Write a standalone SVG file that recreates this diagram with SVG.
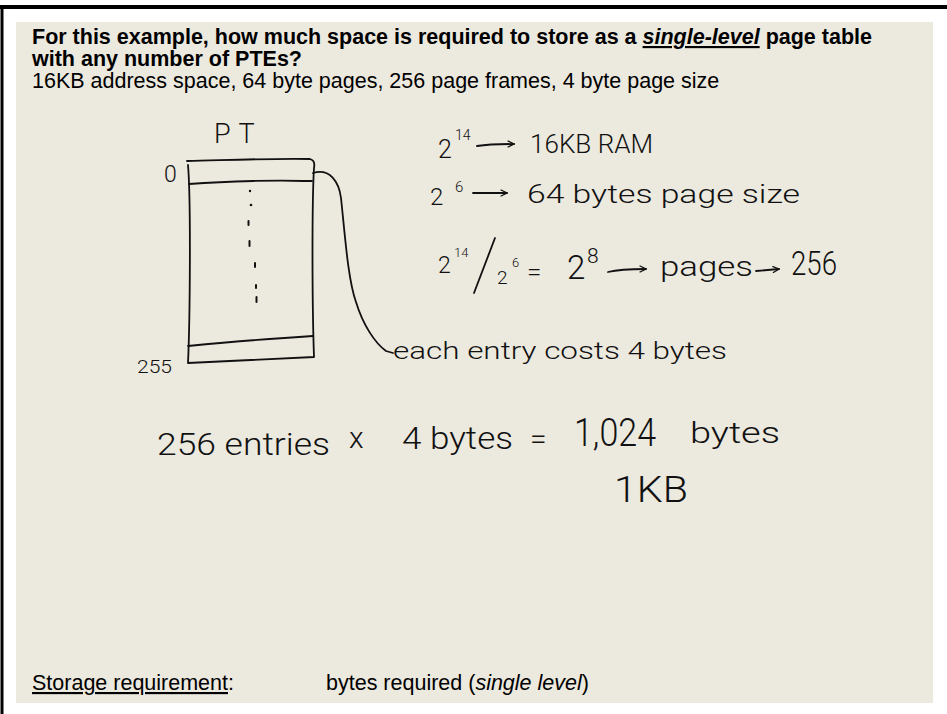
<svg xmlns="http://www.w3.org/2000/svg" width="947" height="714" viewBox="0 0 947 714">
<style>
.t{font-family:"Liberation Sans",Arial,sans-serif;font-size:21.5px;fill:#000}
.b{font-weight:bold}
.i{font-style:italic}
.h{font-family:Roboto,"Liberation Sans",sans-serif;fill:#111;font-weight:300}
.ink{fill:none;stroke:#111;stroke-width:1.8;stroke-linecap:round;stroke-linejoin:round}
</style>
<defs>
<marker id="ah" viewBox="0 0 10 10" refX="9" refY="5" markerWidth="8" markerHeight="8" markerUnits="userSpaceOnUse" orient="auto">
<path d="M1,1 L9,5 L1,9" fill="none" stroke="#111" stroke-width="1.6"/>
</marker>
</defs>
<rect x="0" y="0" width="947" height="714" fill="#fff"/>
<rect x="16" y="22" width="917" height="681" fill="#ECE9DF"/>
<line x1="0" y1="7" x2="947" y2="7" stroke="#000" stroke-width="4"/>
<line x1="2" y1="5" x2="2" y2="714" stroke="#000" stroke-width="3"/>

<g id="header">
<text class="t b" x="32" y="44">For this example, how much space is required to store as a <tspan class="i" text-decoration="underline">single-level</tspan> page table</text>
<text class="t b" x="32" y="66">with any number of PTEs?</text>
<text class="t" x="32" y="88">16KB address space, 64 byte pages, 256 page frames, 4 byte page size</text>
</g>

<g id="footer">
<text class="t" x="32" y="690"><tspan text-decoration="underline">Storage requirement</tspan>:</text>
<text class="t" x="326" y="690">bytes required (<tspan class="i">single level</tspan>)</text>
</g>

<g id="page-table">
<path class="ink" d="M187,161 C230,160 280,158 310,159 C314,160 315,163 314,168 C312,200 312,300 314,357 L188,363 C190,320 191,200 188,165"/>
<path class="ink" d="M189,184 C230,181 280,180 303,181 L312,181"/>
<path class="ink" d="M188,346 C230,342 280,338 313,336"/>
<g fill="#111">
<circle cx="250" cy="191" r="1.2"/>
<circle cx="251" cy="205" r="1.3"/>
<rect x="247.5" y="220" width="2" height="6" rx="1"/>
<rect x="248.5" y="240" width="2" height="7" rx="1"/>
<rect x="254" y="262" width="2" height="6" rx="1"/>
<rect x="255" y="284" width="2" height="5" rx="1"/>
<rect x="255.5" y="296" width="2" height="7" rx="1"/>
</g>
<text class="h" x="214" y="143" font-size="27" letter-spacing="8">PT</text>
<text class="h" x="164" y="182" font-size="23">0</text>
<text class="h" x="137" y="373" font-size="18" textLength="35" lengthAdjust="spacingAndGlyphs">255</text>
</g>

<g id="connectors">
<path class="ink" d="M313,173 C330,168 339,182 341,198 C345,235 348,280 356,302 C363,325 375,343 386,351 L393,353"/>
<path class="ink" d="M477,146 C490,144 502,144 514,144" marker-end="url(#ah)"/>
<path class="ink" d="M473,193 L507,193" marker-end="url(#ah)"/>
<path class="ink" d="M608,272 C620,269 635,269 646,269" marker-end="url(#ah)"/>
<path class="ink" d="M756,271 L779,269" marker-end="url(#ah)"/>
<path class="ink" d="M495,238 L474,293"/>
</g>

<g id="note-entry">
<text class="h" x="393" y="359" font-size="24" textLength="334" lengthAdjust="spacingAndGlyphs">each entry costs 4 bytes</text>
</g>

<g id="calc-ram">
<text class="h" x="438" y="158" font-size="25">2</text>
<text class="h" x="455" y="140" font-size="14">14</text>
<text class="h" x="530" y="153" font-size="25" textLength="123" lengthAdjust="spacingAndGlyphs">16KB RAM</text>
</g>

<g id="calc-page">
<text class="h" x="430" y="205" font-size="24">2</text>
<text class="h" x="455" y="192" font-size="15">6</text>
<text class="h" x="527" y="203" font-size="25" textLength="273" lengthAdjust="spacingAndGlyphs">64 bytes page size</text>
</g>

<g id="calc-pages">
<text class="h" x="438" y="273" font-size="23">2</text>
<text class="h" x="454" y="257" font-size="13">14</text>
<text class="h" x="497" y="284" font-size="19">2</text>
<text class="h" x="512" y="267" font-size="13">6</text>
<text class="h" x="527" y="281" font-size="26">=</text>
<text class="h" x="567" y="279" font-size="33">2</text>
<text class="h" x="587" y="263" font-size="21">8</text>
<text class="h" x="660" y="276" font-size="28" textLength="93" lengthAdjust="spacingAndGlyphs">pages</text>
<text class="h" x="791" y="275" font-size="34" textLength="46" lengthAdjust="spacingAndGlyphs">256</text>
</g>

<g id="calc-total">
<text class="h" x="157" y="455" font-size="32" textLength="173" lengthAdjust="spacingAndGlyphs">256 entries</text>
<text class="h" x="349" y="448" font-size="30">x</text>
<text class="h" x="402" y="449" font-size="32" textLength="111" lengthAdjust="spacingAndGlyphs">4 bytes</text>
<text class="h" x="530" y="449" font-size="30">=</text>
<text class="h" x="574" y="446" font-size="38" textLength="82" lengthAdjust="spacingAndGlyphs">1,024</text>
<text class="h" x="690" y="443" font-size="30" textLength="90" lengthAdjust="spacingAndGlyphs">bytes</text>
<text class="h" x="614" y="502" font-size="37" textLength="74" lengthAdjust="spacingAndGlyphs">1KB</text>
</g>
</svg>
